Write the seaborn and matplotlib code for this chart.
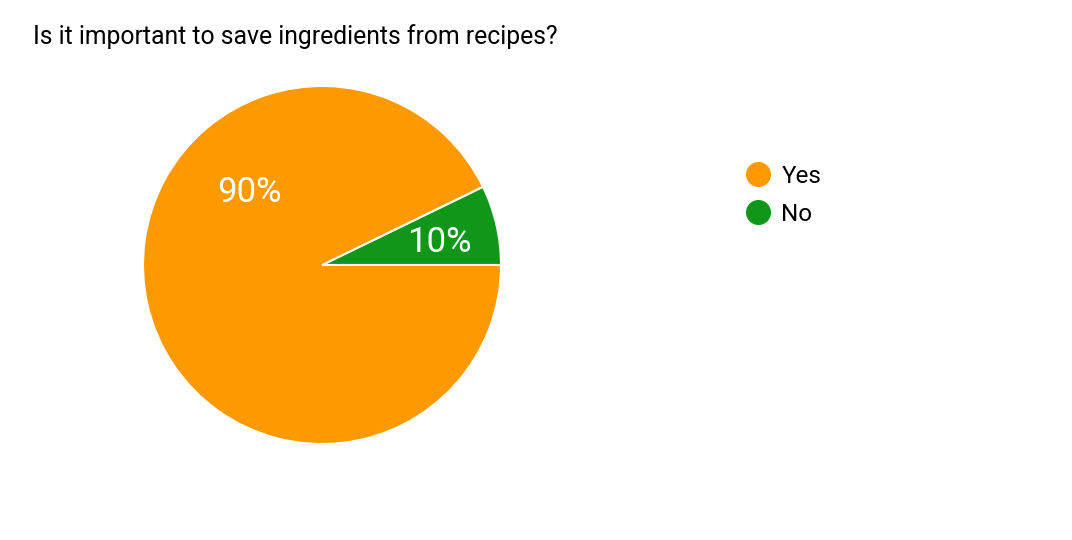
import matplotlib
matplotlib.use("Agg")
import matplotlib.pyplot as plt
from matplotlib.lines import Line2D
import seaborn as sns

# survey answers (wedge sizes as drawn, labels as printed)
answers = ["Yes", "No"]
shares = [92.8, 7.2]
pct_labels = ["90%", "10%"]
colors = ["#FF9900", "#109618"]
title = "Is it important to save ingredients from recipes?"

sns.set_theme(style="white")
plt.rcParams["font.family"] = ["Roboto", "DejaVu Sans"]
plt.rcParams["text.color"] = "black"

fig = plt.figure(figsize=(10.72, 5.4), dpi=100)
cx, cy, r = 322, 265, 179
ax = fig.add_axes([(cx - r) / 1072, (540 - cy - r) / 540, 2 * r / 1072, 2 * r / 540])

# draw "No" first so it sits just above 3 o'clock, counter-clockwise
order = [1, 0]
ax.pie([shares[i] for i in order], colors=[colors[i] for i in order],
       startangle=0, counterclock=True, radius=1,
       wedgeprops=dict(edgecolor="white", linewidth=1.5))
ax.set_xlim(-1, 1)
ax.set_ylim(-1, 1)
ax.set_aspect("equal")
ax.axis("off")

ax.text(-0.405, 0.405, pct_labels[0], color="white", fontsize=25, ha="center", va="center")
ax.text(0.655, 0.125, pct_labels[1], color="white", fontsize=25, ha="center", va="center")

fig.text(33 / 1072, 1 - 37 / 540, title, fontsize=17.8, color="black", va="center", ha="left")

handles = [Line2D([], [], marker="o", linestyle="", markersize=17,
                  markerfacecolor=c, markeredgecolor=c) for c in colors]
fig.legend(handles, answers, loc="upper left", bbox_to_anchor=(734 / 1072, 1 - 155 / 540),
           frameon=False, fontsize=17.5, handletextpad=0.35, labelspacing=0.62,
           handlelength=1.2, borderaxespad=0, labelcolor="black")

fig.savefig("out.png", dpi=100, facecolor="white")
